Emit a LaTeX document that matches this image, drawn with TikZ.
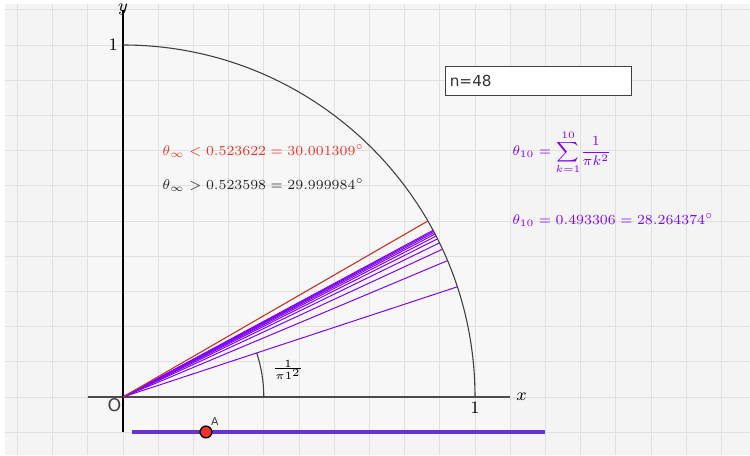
\documentclass[tikz,border=0pt]{standalone}
\usepackage{fontspec}
\newfontfamily\uisans{DejaVu Sans}
\usepackage{amsmath}
\usetikzlibrary{positioning}
\definecolor{ggviolet}{RGB}{127,0,255}
\definecolor{ggred}{RGB}{240,50,40}
\definecolor{ggslider}{RGB}{102,51,204}
\definecolor{ggbg}{RGB}{244,244,244}
\definecolor{ggpanel}{RGB}{247,247,247}
\definecolor{gggrid}{RGB}{224,224,224}

\begin{document}
\begin{tikzpicture}[
    x=5.69cm,y=5.69cm,
    axis/.style={black!70,line width=0.5pt},
    ray/.style={ggviolet,line width=0.45pt},
    ticklbl/.style={inner sep=0pt,font=\fontsize{8}{10}\selectfont},
    mathlbl/.style={anchor=west,inner sep=0pt,font=\fontsize{7}{8}\selectfont,scale=0.914},
  ]
    \useasboundingbox (-0.3494,-0.1648) rectangle (1.7813,1.1278);
    \fill[white] (-0.3494,-0.1648) rectangle (1.7813,1.1278);
    \fill[ggbg] (-0.3352,-0.1648) rectangle (1.7813,1.1165);
    \fill[ggpanel] (-0.1,-0.1) rectangle (1.1,1.1);
    \foreach \i in {-3,...,17}
      \draw[gggrid] (\i/10,-0.1648) -- (\i/10,1.1165);
    \foreach \j in {-1,...,11}
      \draw[gggrid] (-0.3352,\j/10) -- (1.7813,\j/10);
    \coordinate (O) at (0,0);
    \draw[axis] (-0.1,0) -- (1.1,0);
    \draw[black,line width=0.5pt] (0,-0.1) -- (0,1.1);
    \node[ticklbl,anchor=west,inner sep=1pt] (xlbl) at (1.11,0) {$x$};
    \node[ticklbl,anchor=north] (ylbl) at (0,1.119) {$y$};
    \node[ticklbl] (xone) at (1,-0.032) {$1$};
    \node[ticklbl] (yone) at (-0.028,1) {$1$};
    \node[inner sep=0pt,font=\uisans\fontsize{8}{9}\selectfont,text=black!75] (orig) at (-0.024,-0.024) {O};
    \draw[black!75,line width=0.5pt] (1,0) arc[start angle=0,end angle=90,radius=1];
    \foreach \k [remember=\t as \tp (initially 0), evaluate=\k as \t using \tp+180/(pi*pi*\k*\k)] in {1,...,10}
      \draw[ray] (O) -- (\t:1);
    \draw[ggred!85!black,line width=0.5pt] (O) -- (30:1);
    \draw[black!75,line width=0.5pt] (0.4,0) arc[start angle=0,end angle={180/(pi*pi)},radius=0.4];
    \node[inner sep=0pt,font=\tiny] (albl) at (0.469,0.077) {$\frac{1}{\pi 1^2}$};
    \node[mathlbl,text=ggred] (upper) at (0.111,0.699) {$\theta_\infty < 0.523622 = 30.001309^\circ$};
    \node[mathlbl,text=black!85] (lower) at (0.111,0.602) {$\theta_\infty > 0.523598 = 29.999984^\circ$};
    \node[mathlbl,text=ggviolet] (sumf) at (1.105,0.696) {$\theta_{10} = \displaystyle\sum_{k=1}^{10}\! \frac{1}{\pi k^2}$};
    \node[mathlbl,text=ggviolet] (sumv) at (1.105,0.503) {$\theta_{10} = 0.493306 = 28.264374^\circ$};
    \node[draw=black!75,fill=white,minimum width=3.007cm,minimum height=0.469cm,text width=2.85cm,align=left,inner sep=2pt,
      font=\uisans\fontsize{7}{8}\selectfont,text=black!80] (nbox) at (1.179,0.899) {n=48};
    \coordinate (s0) at (0.0256,-0.0994);
    \coordinate (s1) at (1.1989,-0.0994);
    \draw[ggslider,line width=1.4pt] (s0) -- (s1);
    \node[circle,draw=black,fill=ggred,inner sep=0pt,minimum size=0.19cm,line width=0.6pt] (A) at (0.2358,-0.0994) {};
    \node[font=\uisans\fontsize{5}{6}\selectfont,text=black!75,inner sep=0pt,above right=0.5pt and 0pt of A] (albl) {A};
  \end{tikzpicture}
\end{document}
